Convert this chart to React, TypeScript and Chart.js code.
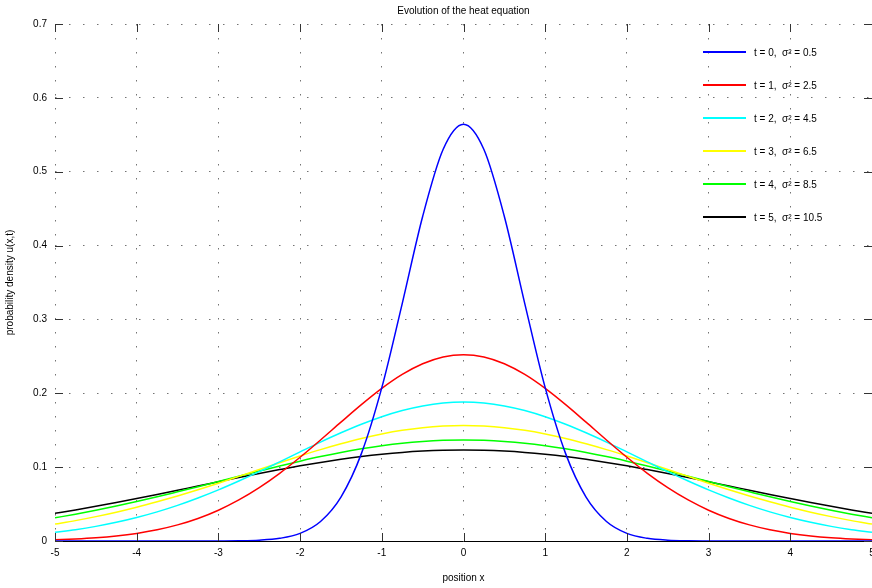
import React, { useEffect, useRef } from "react";
import { Chart, registerables } from "chart.js";

Chart.register(...registerables);

const xValues = [
  -5, -4.75, -4.5, -4.25, -4, -3.75, -3.5, -3.25, -3, -2.75, -2.5, -2.25, -2, -1.75, -1.5, -1.25, -1, -0.75, -0.5, -0.25,
  0, 0.25, 0.5, 0.75, 1, 1.25, 1.5, 1.75, 2, 2.25, 2.5, 2.75, 3, 3.25, 3.5, 3.75, 4, 4.25, 4.5, 4.75, 5,
];

const seriesT0 = [
  0, 0, 0, 0, 0, 0, 0, 0.0001, 0.0001, 0.0003, 0.0011, 0.0036, 0.0103, 0.0264, 0.0595, 0.1183, 0.2076, 0.3215, 0.4394, 0.53,
  0.5642, 0.53, 0.4394, 0.3215, 0.2076, 0.1183, 0.0595, 0.0264, 0.0103, 0.0036, 0.0011, 0.0003, 0.0001, 0.0001, 0, 0, 0, 0, 0, 0, 0,
];
const seriesT1 = [
  0.0017, 0.0028, 0.0044, 0.0068, 0.0103, 0.0152, 0.0218, 0.0305, 0.0417, 0.0556, 0.0723, 0.0917, 0.1134, 0.1368, 0.1609, 0.1846, 0.2066, 0.2255, 0.24, 0.2492,
  0.2523, 0.2492, 0.24, 0.2255, 0.2066, 0.1846, 0.1609, 0.1368, 0.1134, 0.0917, 0.0723, 0.0556, 0.0417, 0.0305, 0.0218, 0.0152, 0.0103, 0.0068, 0.0044, 0.0028, 0.0017,
];
const seriesT2 = [
  0.0117, 0.0153, 0.0198, 0.0253, 0.0318, 0.0394, 0.0482, 0.0582, 0.0692, 0.0812, 0.0939, 0.1072, 0.1206, 0.1339, 0.1465, 0.1581, 0.1683, 0.1767, 0.1829, 0.1868,
  0.1881, 0.1868, 0.1829, 0.1767, 0.1683, 0.1581, 0.1465, 0.1339, 0.1206, 0.1072, 0.0939, 0.0812, 0.0692, 0.0582, 0.0482, 0.0394, 0.0318, 0.0253, 0.0198, 0.0153, 0.0117,
];
const seriesT3 = [
  0.0229, 0.0276, 0.033, 0.039, 0.0457, 0.0531, 0.061, 0.0694, 0.0783, 0.0875, 0.0968, 0.106, 0.1151, 0.1237, 0.1316, 0.1388, 0.1449, 0.1499, 0.1535, 0.1557,
  0.1565, 0.1557, 0.1535, 0.1499, 0.1449, 0.1388, 0.1316, 0.1237, 0.1151, 0.106, 0.0968, 0.0875, 0.0783, 0.0694, 0.061, 0.0531, 0.0457, 0.039, 0.033, 0.0276, 0.0229,
];
const seriesT4 = [
  0.0314, 0.0363, 0.0416, 0.0473, 0.0534, 0.0598, 0.0666, 0.0735, 0.0806, 0.0877, 0.0947, 0.1016, 0.1081, 0.1143, 0.1199, 0.1248, 0.129, 0.1324, 0.1348, 0.1363,
  0.1368, 0.1363, 0.1348, 0.1324, 0.129, 0.1248, 0.1199, 0.1143, 0.1081, 0.1016, 0.0947, 0.0877, 0.0806, 0.0735, 0.0666, 0.0598, 0.0534, 0.0473, 0.0416, 0.0363, 0.0314,
];
const seriesT5 = [
  0.0374, 0.042, 0.0469, 0.0521, 0.0575, 0.063, 0.0687, 0.0745, 0.0802, 0.0859, 0.0914, 0.0967, 0.1018, 0.1064, 0.1106, 0.1143, 0.1174, 0.1199, 0.1217, 0.1228,
  0.1231, 0.1228, 0.1217, 0.1199, 0.1174, 0.1143, 0.1106, 0.1064, 0.1018, 0.0967, 0.0914, 0.0859, 0.0802, 0.0745, 0.0687, 0.063, 0.0575, 0.0521, 0.0469, 0.042, 0.0374,
];

const seriesLabels = ["t = 0,  σ² = 0.5", "t = 1,  σ² = 2.5", "t = 2,  σ² = 4.5", "t = 3,  σ² = 6.5", "t = 4,  σ² = 8.5", "t = 5,  σ² = 10.5"];
const seriesColors = ["#0000ff", "#ff0000", "#00ffff", "#ffff00", "#00ff00", "#000000"];
const allSeries = [seriesT0, seriesT1, seriesT2, seriesT3, seriesT4, seriesT5];

const xTicks = [-5, -4, -3, -2, -1, 0, 1, 2, 3, 4, 5];
const yTicks = [0, 0.1, 0.2, 0.3, 0.4, 0.5, 0.6, 0.7];

const titleText = "Evolution of the heat equation";
const xLabel = "position x";
const yLabel = "probability density u(x,t)";

const FONT = "'Liberation Sans', Arial, sans-serif";

const overlayPlugin = {
  id: "overlay",
  afterDraw(chart: any) {
    const ctx = chart.ctx;
    const area = chart.chartArea;
    const xs = chart.scales.x;
    const ys = chart.scales.y;
    ctx.save();
    ctx.strokeStyle = "#000";
    ctx.lineWidth = 1;
    ctx.beginPath();
    ctx.moveTo(area.left, area.bottom + 0.5);
    ctx.lineTo(area.right, area.bottom + 0.5);
    ctx.stroke();
    ctx.strokeStyle = "#333";
    yTicks.forEach((v) => {
      const y = Math.round(ys.getPixelForValue(v)) + 0.5;
      ctx.beginPath();
      ctx.moveTo(area.left, y);
      ctx.lineTo(area.left + 8, y);
      ctx.moveTo(area.right, y);
      ctx.lineTo(area.right - 8, y);
      ctx.stroke();
    });
    xTicks.forEach((v) => {
      const x = Math.round(xs.getPixelForValue(v)) + 0.5;
      ctx.beginPath();
      ctx.moveTo(x, area.bottom);
      ctx.lineTo(x, area.bottom - 8);
      ctx.moveTo(x, area.top);
      ctx.lineTo(x, area.top + 8);
      ctx.stroke();
    });
    ctx.fillStyle = "#000";
    ctx.font = `10px ${FONT}`;
    ctx.textAlign = "center";
    ctx.textBaseline = "middle";
    ctx.fillText(titleText, (area.left + area.right) / 2, 11);
    const ds = chart.data.datasets;
    ds.forEach((d: any, i: number) => {
      const y = 52 + i * 33;
      ctx.strokeStyle = d.borderColor;
      ctx.lineWidth = 2;
      ctx.beginPath();
      ctx.moveTo(703, y);
      ctx.lineTo(746, y);
      ctx.stroke();
      ctx.fillStyle = "#000";
      ctx.textAlign = "left";
      ctx.fillText(d.label, 754, y + 1);
    });
    ctx.restore();
  },
};

export default function App() {
  const ref = useRef<HTMLCanvasElement | null>(null);
  useEffect(() => {
    document.body.style.margin = "0";
    if (!ref.current) return;
    const chart = new Chart(ref.current, {
      type: "line",
      data: {
        datasets: allSeries.map((s, i) => ({
          label: seriesLabels[i],
          data: xValues.map((x, j) => ({ x, y: s[j] })),
          borderColor: seriesColors[i],
          backgroundColor: seriesColors[i],
          borderWidth: 1.5,
          pointRadius: 0,
          tension: 0.4,
          cubicInterpolationMode: "monotone",
          fill: false,
        })),
      },
      options: {
        animation: false,
        responsive: false,
        maintainAspectRatio: false,
        layout: { padding: { top: 24, right: 0, left: 0, bottom: 0 } },
        plugins: {
          legend: { display: false },
          tooltip: { enabled: false },
          title: { display: false },
        },
        scales: {
          x: {
            type: "linear",
            min: -5,
            max: 5,
            afterFit: (s: any) => {
              s.height = 47;
              s.paddingLeft = 0;
              s.paddingRight = 0;
            },
            afterBuildTicks: (s: any) => {
              s.ticks = xTicks.map((v) => ({ value: v }));
            },
            ticks: { font: { family: FONT, size: 10 }, color: "#000", padding: 6, maxRotation: 0 },
            grid: {
              color: "rgba(0,0,0,0.55)",
              lineWidth: 1,
              drawTicks: false,
              tickLength: 0,
            },
            border: { display: false, dash: [1.5, 12.5] },
            title: { display: true, text: xLabel, font: { family: FONT, size: 10 }, color: "#000", padding: { top: 2, bottom: 4 } },
          },
          y: {
            type: "linear",
            min: 0,
            max: 0.7,
            afterFit: (s: any) => {
              s.width = 55;
              s.paddingTop = 0;
              s.paddingBottom = 0;
            },
            afterBuildTicks: (s: any) => {
              s.ticks = yTicks.map((v) => ({ value: v }));
            },
            ticks: {
              font: { family: FONT, size: 10 },
              color: "#000",
              padding: 8,
              callback: (v: any) => String(Math.round(Number(v) * 10) / 10),
            },
            grid: {
              color: "rgba(0,0,0,0.55)",
              lineWidth: 1,
              drawTicks: false,
              tickLength: 0,
            },
            border: { display: false, dash: [1.5, 12.5] },
            title: { display: true, text: yLabel, font: { family: FONT, size: 10 }, color: "#000", padding: { top: 4, bottom: 2 } },
          },
        },
      },
      plugins: [overlayPlugin],
    } as any);
    return () => chart.destroy();
  }, []);
  return (
    <div style={{ position: "fixed", left: 0, top: 0, width: 872, height: 588 }}>
      <canvas ref={ref} width={872} height={588} style={{ width: 872, height: 588 }} />
    </div>
  );
}
